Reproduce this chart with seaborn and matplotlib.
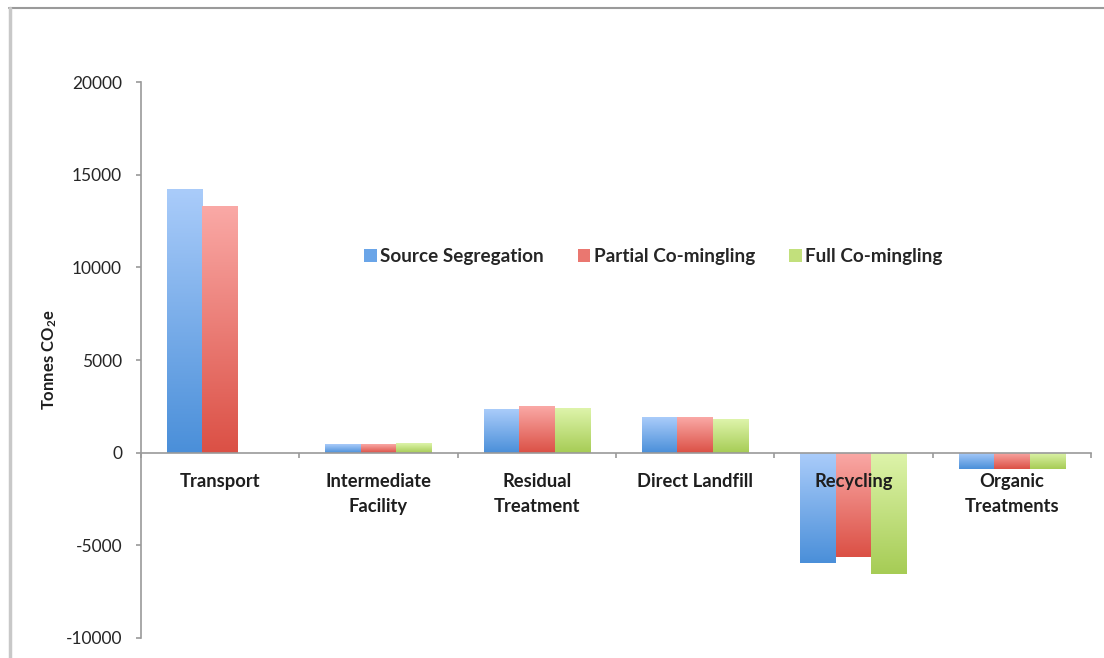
import numpy as np
import pandas as pd
import matplotlib
matplotlib.use("Agg")
import matplotlib.pyplot as plt
import seaborn as sns
from matplotlib.patches import Patch
from matplotlib.lines import Line2D
from matplotlib.colors import LinearSegmentedColormap

categories = ["Transport", "Intermediate\nFacility", "Residual\nTreatment",
              "Direct Landfill", "Recycling", "Organic\nTreatments"]
series = ["Source Segregation", "Partial Co-mingling", "Full Co-mingling"]
source_segregation = [14220, 450, 2370, 1920, -5930, -900]
partial_comingling = [13310, 485, 2500, 1920, -5620, -900]
full_comingling = [0, 520, 2390, 1815, -6560, -900]
yticks = [-10000, -5000, 0, 5000, 10000, 15000, 20000]

df = pd.DataFrame({
    "category": categories * 3,
    "series": [series[0]] * 6 + [series[1]] * 6 + [series[2]] * 6,
    "value": source_segregation + partial_comingling + full_comingling,
})

grad = {
    series[0]: ("#4A8FD9", "#AACCFA"),
    series[1]: ("#DB5045", "#FAA9A6"),
    series[2]: ("#A6CC55", "#DEF4AB"),
}
mid = {series[0]: "#6AA5E8", series[1]: "#EA7770", series[2]: "#C2E07C"}

sns.set_style("white")
plt.rcParams["font.family"] = ["Lato", "DejaVu Sans"]
plt.rcParams["mathtext.default"] = "regular"

fig = plt.figure(figsize=(11.04, 6.58), dpi=100)
ax = fig.add_axes([141 / 1104, 20 / 658, 950 / 1104, 556 / 658])

sns.barplot(data=df, x="category", y="value", hue="series", order=categories,
            hue_order=series, palette=mid, width=0.67, legend=False, ax=ax,
            saturation=1, edgecolor="none", linewidth=0)

ax.set_axisbelow(False)

# gradient overlays
n = len(categories)
for i, p in enumerate(ax.patches):
    s = series[i // n]
    x0 = p.get_x(); w = p.get_width()
    y0 = p.get_y(); h = p.get_height()
    lo, hi = min(y0, y0 + h), max(y0, y0 + h)
    if hi - lo <= 0:
        continue
    cmap = LinearSegmentedColormap.from_list("g", [grad[s][0], grad[s][1]])
    arr = np.linspace(0, 1, 256).reshape(-1, 1)
    im = ax.imshow(arr, cmap=cmap, origin="lower", aspect="auto",
                   extent=[x0, x0 + w, lo, hi], zorder=1.5, interpolation="bicubic")
    im.set_clip_path(p)
ax.set_xlim(-0.5, n - 0.5)
ax.set_ylim(-10000, 20000)

# axes styling
for sp in ["top", "right"]:
    ax.spines[sp].set_visible(False)
ax.spines["left"].set_color("#9A9A9A")
ax.spines["left"].set_linewidth(1.2)
ax.spines["bottom"].set_position(("data", 0))
ax.spines["bottom"].set_color("#9A9A9A")
ax.spines["bottom"].set_linewidth(1.2)
ax.spines["bottom"].set_zorder(3)

ax.set_yticks(yticks)
ax.set_yticklabels([str(v) for v in yticks])
ax.tick_params(axis="y", direction="out", length=3.6, width=1.2, color="#9A9A9A",
               labelsize=12.5, labelcolor="#262626", pad=10, left=True)
ax.set_xticks(range(n))
ax.set_xticklabels(categories, fontweight="bold", fontsize=13.2, color="#1E1E1E",
                   linespacing=1.6)
ax.tick_params(axis="x", which="major", length=0, pad=14.5)
ax.set_xticks(np.arange(-0.5, n, 1.0), minor=True)
ax.tick_params(axis="x", which="minor", direction="out", length=3.6, width=1.2,
               color="#9A9A9A", bottom=True)
ax.set_xlabel("")
ax.set_ylabel("Tonnes CO$_2$e", fontweight="bold", fontsize=12, color="#1E1E1E")
ax.yaxis.set_label_coords(-0.086, 0.5)
ax.grid(False)

handles = [Patch(facecolor=mid[s], edgecolor="none") for s in series]
ax.legend(handles, series, loc="center", bbox_to_anchor=(0.5395, 0.686), ncol=3,
          frameon=False, handlelength=0.65, handleheight=0.65, handletextpad=0.2,
          columnspacing=1.8, prop={"weight": "bold", "size": 13.6})

# chart-area border
fig.add_artist(Line2D([9 / 1104, 1.0], [1 - 7.5 / 658, 1 - 7.5 / 658],
                      transform=fig.transFigure, color="#9A9A9A", lw=1.5))
fig.add_artist(Line2D([9.5 / 1104, 9.5 / 1104], [0, 1 - 7.5 / 658],
                      transform=fig.transFigure, color="#C8C8C8", lw=2.5))

fig.savefig("out.png", dpi=100)
